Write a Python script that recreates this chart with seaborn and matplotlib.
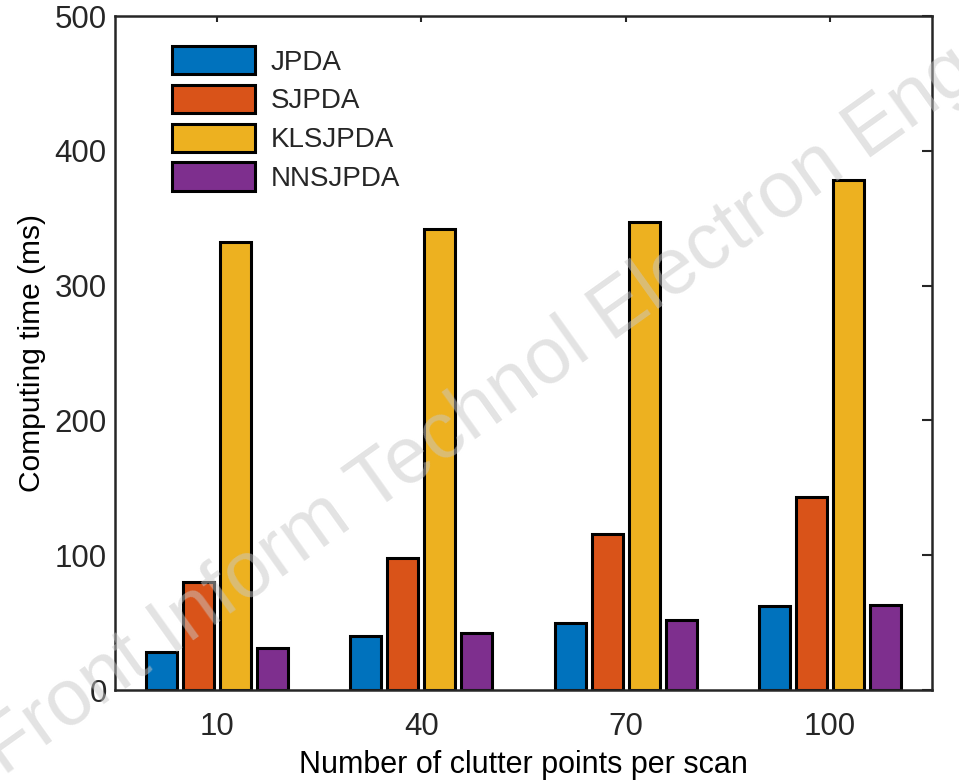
import numpy as np
import pandas as pd
import matplotlib
matplotlib.use("Agg")
import matplotlib.pyplot as plt
import seaborn as sns

# Data
clutter = ["10", "40", "70", "100"]
methods = ["JPDA", "SJPDA", "KLSJPDA", "NNSJPDA"]
jpda = [28, 40, 50, 62]
sjpda = [80, 98, 116, 143]
klsjpda = [332, 342, 347, 378]
nnsjpda = [31, 42, 52, 63]
colors = ["#0072BD", "#D95319", "#EDB120", "#7E2F8E"]
yticks = [0, 100, 200, 300, 400, 500]

rows = []
for m, vals in zip(methods, [jpda, sjpda, klsjpda, nnsjpda]):
    for c, v in zip(clutter, vals):
        rows.append({"clutter": c, "method": m, "time": v})
df = pd.DataFrame(rows)

sns.set_theme(style="white")
plt.rcParams["font.family"] = ["Liberation Sans", "DejaVu Sans"]

fig = plt.figure(figsize=(9.59, 7.83), dpi=100)
ax = fig.add_axes([115/959, 1-690/783, (932-115)/959, (690-16)/783])

sns.barplot(data=df, x="clutter", y="time", hue="method", order=clutter,
            hue_order=methods, palette=colors, width=0.725, gap=0.16,
            edgecolor="black", linewidth=2.2, saturation=1, ax=ax, legend=True)

ax.set_xlim(-0.5, 3.5)
ax.set_ylim(0, 500)
ax.set_yticks(yticks)
ax.set_yticklabels([str(t) for t in yticks])
ax.tick_params(axis="both", direction="in", top=True, right=True,
               labelsize=22.5, color="#262626", labelcolor="#262626", width=1.5)
ax.tick_params(axis="y", length=7, pad=6)
ax.tick_params(axis="x", length=4, pad=16)
for s in ax.spines.values():
    s.set_linewidth(1.8)
    s.set_color("#262626")
    s.set_visible(True)

ax.set_xlabel("Number of clutter points per scan", fontsize=22, color="black")
ax.xaxis.set_label_coords(0.5, (690-750)/674)
ax.set_ylabel("Computing time (ms)", fontsize=21.5, color="black", labelpad=6)

leg = ax.legend(loc="upper left", bbox_to_anchor=(172/959, 1-46/783),
                bbox_transform=fig.transFigure, frameon=False, fontsize=20,
                handlelength=3.0, handleheight=1.2, labelspacing=0.33,
                handletextpad=0.55, borderpad=0, borderaxespad=0)

fig.text(0.5, 0.475, "Front Inform Technol Electron Eng", fontsize=57,
         color="#c8c8c8", alpha=0.5, rotation=35.5, ha="center", va="center",
         rotation_mode="anchor", zorder=10)

fig.savefig("out.png", dpi=100)
